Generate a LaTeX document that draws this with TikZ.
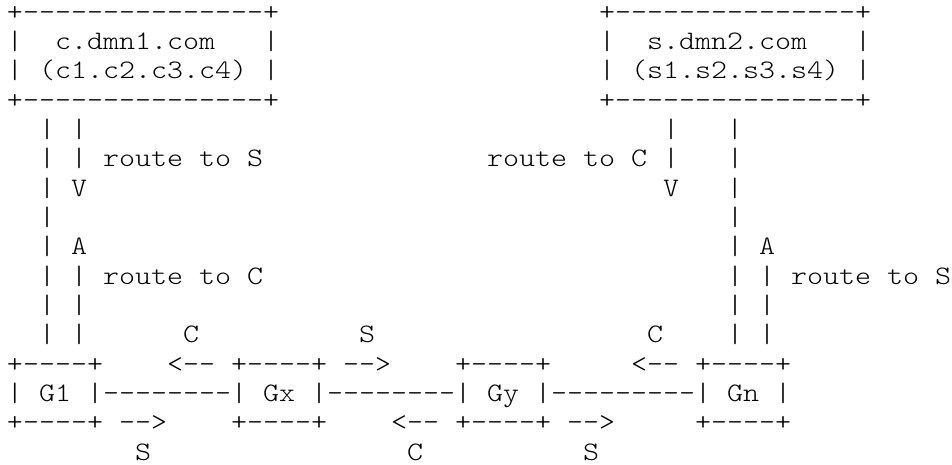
\documentclass[tikz,border=0pt]{standalone}
\usepackage{fontspec}
\usepackage{tikz}

\newfontfamily\asciifont[FakeStretch=1.1429,Ligatures=TeXOff]{lmmonolt10-regular.otf}
% one column of the figure = width of one character
\newcommand\fixcols{\fontdimen2\font=\fontcharwd\font`x\relax
  \fontdimen3\font=0pt\relax\fontdimen4\font=0pt\relax\frenchspacing}
\newcommand\gap[1]{\hskip#1\fontcharwd\font`x\relax}

\begin{document}
\begin{tikzpicture}[
    asciirow/.style={anchor=base west, inner sep=0pt, outer sep=0pt,
      font=\asciifont\fontsize{20pt}{22pt}\selectfont\fixcols}]
    \useasboundingbox (0pt,0pt) rectangle (714pt,-348pt);

    % === Domain boxes (top) ===
    \node[asciirow] (row1) at (5.25pt,-15pt) {+---------------+\gap{20}+---------------+};
    \node[asciirow] (row2) at (5.25pt,-37pt) {|~~c.dmn1.com~~~|\gap{20}|~~s.dmn2.com~~~|};
    \node[asciirow] (row3) at (5.25pt,-59pt) {|~(c1.c2.c3.c4)~|\gap{20}|~(s1.s2.s3.s4)~|};
    \node[asciirow] (row4) at (5.25pt,-81pt) {+---------------+\gap{20}+---------------+};

    % === Routes down to the gateways ===
    \node[asciirow] (row5) at (5.25pt,-103pt) {\gap{2}|~|\gap{36}|~~~|};
    \node[asciirow] (row6) at (5.25pt,-125pt) {\gap{2}|~|~route to S\gap{14}route to C~|~~~|};
    \node[asciirow] (row7) at (5.25pt,-147pt) {\gap{2}|~V\gap{36}V~~~|};
    \node[asciirow] (row8) at (5.25pt,-169pt) {\gap{2}|\gap{42}|};
    \node[asciirow] (row9) at (5.25pt,-191pt) {\gap{2}|~A\gap{40}|~A};
    \node[asciirow] (row10) at (5.25pt,-213pt) {\gap{2}|~|~route to C\gap{29}|~|~route to S};
    \node[asciirow] (row11) at (5.25pt,-235pt) {\gap{2}|~|\gap{40}|~|};
    \node[asciirow] (row12) at (5.25pt,-257pt) {\gap{2}|~|\gap{6}C\gap{10}S\gap{17}C\gap{4}|~|};

    % === Gateway chain (bottom) ===
    \node[asciirow] (row13) at (5.25pt,-279pt) {+----+\gap{4}<--~+----+~-->\gap{4}+----+\gap{5}<--~+----+};
    \node[asciirow] (row14) at (5.25pt,-301pt) {|~G1~|--------|~Gx~|--------|~Gy~|---------|~Gn~|};
    \node[asciirow] (row15) at (5.25pt,-323pt) {+----+~-->\gap{4}+----+\gap{4}<--~+----+~-->\gap{5}+----+};
    \node[asciirow] (row16) at (5.25pt,-345pt) {\gap{8}S\gap{16}C\gap{10}S};

\end{tikzpicture}
\end{document}
